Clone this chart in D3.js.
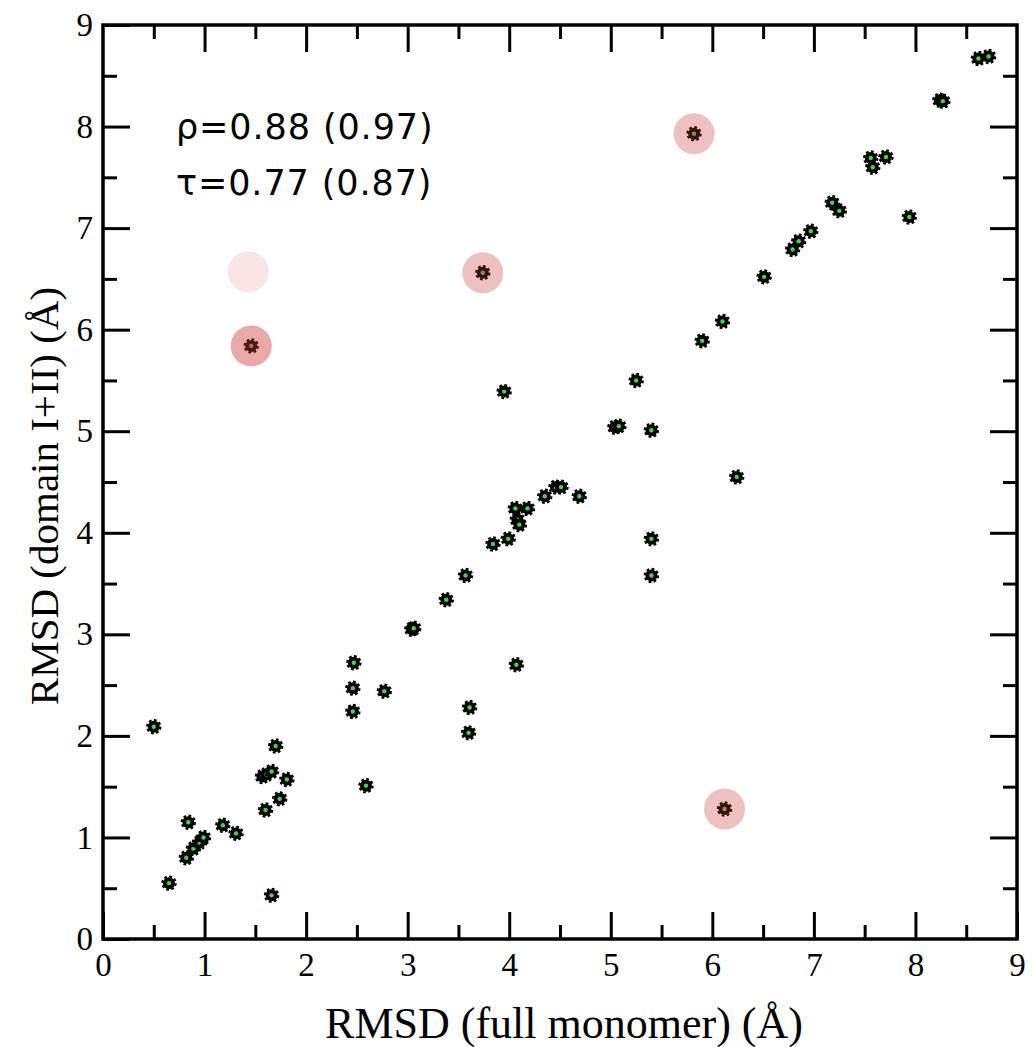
<!DOCTYPE html>
<html>
<head>
<meta charset="utf-8">
<script src="https://cdn.jsdelivr.net/npm/d3@7"></script>
<style>
  html, body { margin: 0; padding: 0; background: #fff; }
  svg { display: block; }
</style>
</head>
<body>
<svg id="chart" width="1032" height="1047"></svg>
<script>
// ---- data ----
const fullMonomer = [0.50, 0.65, 0.82, 0.84, 0.89, 0.95, 0.99, 1.18, 1.31, 1.57, 1.61, 1.66, 1.70, 1.81, 1.74, 1.60, 1.66,
  2.47, 2.46, 2.46, 2.77, 2.59, 3.04, 3.06, 3.38, 3.57, 3.60, 3.61, 3.84, 3.99, 3.95, 4.06, 4.18, 4.08, 4.10, 4.07,
  4.35, 4.46, 4.51, 4.69, 5.04, 5.08, 5.40, 5.25, 5.40, 5.40, 5.90, 6.10, 6.24, 6.51, 6.79, 6.85, 6.97, 7.18, 7.25,
  7.94, 7.56, 7.58, 7.71, 8.24, 8.27, 8.62, 8.72, 1.46, 3.74, 5.82, 6.12];
const domainI_II = [2.09, 0.55, 0.80, 1.15, 0.89, 0.95, 1.00, 1.12, 1.04, 1.60, 1.62, 1.65, 1.90, 1.57, 1.38, 1.27, 0.43,
  2.72, 2.47, 2.24, 2.44, 1.51, 3.05, 3.06, 3.34, 3.58, 2.03, 2.28, 3.89, 3.94, 5.39, 4.24, 4.24, 4.13, 4.08, 2.70,
  4.36, 4.45, 4.45, 4.36, 5.04, 5.05, 5.01, 5.50, 3.94, 3.58, 5.89, 6.08, 4.55, 6.52, 6.79, 6.87, 6.97, 7.25, 7.17,
  7.11, 7.69, 7.60, 7.70, 8.26, 8.25, 8.67, 8.69, 5.84, 6.56, 7.93, 1.28];
// highlighted (outlier) positions
const highlightX = [1.43, 1.46, 3.74, 5.82, 6.12];
const highlightY = [6.57, 5.84, 6.56, 7.93, 1.28];
const highlightLevel = ["faint", "strong", "medium", "medium", "medium"];
const xTicks = [0, 1, 2, 3, 4, 5, 6, 7, 8, 9];
const yTicks = [0, 1, 2, 3, 4, 5, 6, 7, 8, 9];
const statLines = ["\u03c1=0.88 (0.97)", "\u03c4=0.77 (0.87)"];
const xTitle = "RMSD (full monomer) (\u00c5)";
const yTitle = "RMSD (domain I+II) (\u00c5)";

// ---- layout ----
const L = 103, R = 1017, T = 25, B = 939;
const svg = d3.select("#chart");
const x = d3.scaleLinear().domain([0, 9]).range([L, R]);
const y = d3.scaleLinear().domain([0, 9]).range([B, T]);
const minor = d3.range(0.5, 9, 1);

const serif = "'Liberation Serif', 'Times New Roman', serif";
const sans = "'DejaVu Sans', Verdana, sans-serif";

function styleAxis(g) {
  g.select(".domain").remove();
  g.selectAll("line").attr("stroke", "#000").attr("stroke-width", 3);
  g.selectAll("text").attr("font-family", serif).attr("font-size", 33).attr("fill", "#000");
}

// bottom axis with labels, inward ticks
const gx = svg.append("g").attr("transform", `translate(0,${B})`)
  .call(d3.axisBottom(x).tickValues(xTicks).tickFormat(d3.format("d")).tickSizeInner(-27).tickSizeOuter(0));
styleAxis(gx);
gx.selectAll("text").attr("dy", "0.71em").attr("y", 14);
svg.append("g").attr("transform", `translate(0,${B})`)
  .call(d3.axisBottom(x).tickValues(minor).tickFormat("").tickSizeInner(-14).tickSizeOuter(0)).call(styleAxis);
// top axis mirror
svg.append("g").attr("transform", `translate(0,${T})`)
  .call(d3.axisTop(x).tickValues(xTicks.slice(1, -1)).tickFormat("").tickSizeInner(-27).tickSizeOuter(0)).call(styleAxis);
svg.append("g").attr("transform", `translate(0,${T})`)
  .call(d3.axisTop(x).tickValues(minor).tickFormat("").tickSizeInner(-14).tickSizeOuter(0)).call(styleAxis);
// left axis with labels
const gy = svg.append("g").attr("transform", `translate(${L},0)`)
  .call(d3.axisLeft(y).tickValues(yTicks).tickFormat(d3.format("d")).tickSizeInner(-27).tickSizeOuter(0));
styleAxis(gy);
gy.selectAll("text").attr("x", -10);
svg.append("g").attr("transform", `translate(${L},0)`)
  .call(d3.axisLeft(y).tickValues(minor).tickFormat("").tickSizeInner(-14).tickSizeOuter(0)).call(styleAxis);
// right axis mirror
svg.append("g").attr("transform", `translate(${R},0)`)
  .call(d3.axisRight(y).tickValues(yTicks.slice(1, -1)).tickFormat("").tickSizeInner(-27).tickSizeOuter(0)).call(styleAxis);
svg.append("g").attr("transform", `translate(${R},0)`)
  .call(d3.axisRight(y).tickValues(minor).tickFormat("").tickSizeInner(-14).tickSizeOuter(0)).call(styleAxis);

// frame
svg.append("rect").attr("x", L).attr("y", T).attr("width", R - L).attr("height", B - T)
  .attr("fill", "none").attr("stroke", "#000").attr("stroke-width", 3.5);

// points
const pts = fullMonomer.map((v, i) => ({ x: v, y: domainI_II[i] }));
const gp = svg.append("g");
const pg = gp.selectAll("g.pt").data(pts).join("g").attr("class", "pt")
  .attr("transform", d => `translate(${x(d.x)},${y(d.y)})`);
pg.append("circle").attr("r", 6).attr("fill", "#000");
pg.append("circle").attr("r", 6.6).attr("fill", "none").attr("stroke", "#000")
  .attr("stroke-width", 2.2).attr("stroke-dasharray", "2.8 2.38");
pg.append("circle").attr("r", 2.2).attr("fill", "#45d445");

// halos
const alpha = { faint: 0.12, medium: 0.3, strong: 0.42 };
svg.append("g").selectAll("circle")
  .data(highlightX.map((v, i) => ({ x: v, y: highlightY[i], lvl: highlightLevel[i] })))
  .join("circle")
  .attr("cx", d => x(d.x)).attr("cy", d => y(d.y)).attr("r", 20.5)
  .attr("fill", "#c83232").attr("fill-opacity", d => alpha[d.lvl]);

// stats text
svg.append("g").selectAll("text").data(statLines).join("text")
  .attr("x", 176).attr("y", (d, i) => 139 + i * 56)
  .attr("font-family", sans).attr("font-size", 35).attr("letter-spacing", 0.9).attr("fill", "#000")
  .text(d => d);

// axis titles
svg.append("text").attr("x", (L + R) / 2 + 4).attr("y", 1038).attr("text-anchor", "middle")
  .attr("font-family", serif).attr("font-size", 44).attr("fill", "#000").text(xTitle);
svg.append("text").attr("transform", `translate(58,${(T + B) / 2 + 14}) rotate(-90)`).attr("text-anchor", "middle")
  .attr("font-family", serif).attr("font-size", 41).attr("fill", "#000").text(yTitle);
</script>
</body>
</html>
